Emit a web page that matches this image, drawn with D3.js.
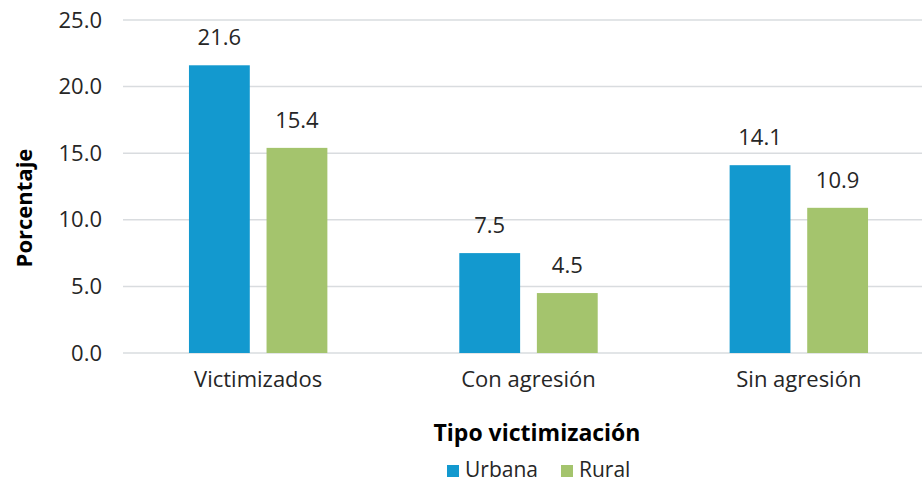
<!DOCTYPE html>
<html>
<head>
<meta charset="utf-8">
<script src="https://cdn.jsdelivr.net/npm/d3@7"></script>
<style>
  body { margin: 0; background: #fff; }
  svg { display: block; font-family: "Open Sans", sans-serif; }
</style>
</head>
<body>
<div id="chart"></div>
<script>
var WIDTH = 922, HEIGHT = 483;
var FONT = '"Open Sans", sans-serif';

// Data
var categories = ['Victimizados', 'Con agresión', 'Sin agresión'];
var seriesNames = ['Urbana', 'Rural'];
var urbana = [21.6, 7.5, 14.1];
var rural = [15.4, 4.5, 10.9];
var yTicks = [0, 5, 10, 15, 20, 25];
var colors = ['#1399cf', '#a4c46d'];

var seriesValues = [urbana, rural];

var svg = d3.select('#chart').append('svg')
    .attr('width', WIDTH)
    .attr('height', HEIGHT);

// plot area extends slightly past the right edge, like the source
var x0 = d3.scaleBand()
    .domain(categories)
    .range([123, 934])
    .paddingInner(0.488)
    .paddingOuter(0.244);

var x1 = d3.scaleBand()
    .domain(seriesNames)
    .range([0, x0.bandwidth()])
    .paddingInner(0.216);

var y = d3.scaleLinear()
    .domain([0, 25])
    .range([353, 20]);

// gridlines
svg.append('g').classed('grid', true)
    .selectAll('line')
    .data(yTicks)
    .enter().append('line')
        .attr('x1', 123)
        .attr('x2', WIDTH)
        .attr('y1', function(d) { return y(d); })
        .attr('y2', function(d) { return y(d); })
        .style('stroke', '#d9dcdf')
        .style('stroke-width', 1.5);

// y axis labels
var yAxis = d3.axisLeft(y)
    .tickValues(yTicks)
    .tickFormat(d3.format('.1f'))
    .tickSize(0)
    .tickPadding(0);

var yg = svg.append('g')
    .attr('transform', 'translate(102,0)')
    .call(yAxis);
yg.select('.domain').remove();
yg.selectAll('text')
    .style('font-size', '22px')
    .style('fill', '#262626')
    .style('font-family', FONT);

// x axis labels
var xAxis = d3.axisBottom(x0).tickSize(0).tickPadding(0);
var xg = svg.append('g')
    .attr('transform', 'translate(0,371)')
    .call(xAxis);
xg.select('.domain').remove();
xg.selectAll('text')
    .style('font-size', '22px')
    .style('fill', '#262626')
    .style('font-family', FONT);

// bars
var groups = svg.append('g').classed('bars', true)
    .selectAll('g')
    .data(categories)
    .enter().append('g')
        .attr('transform', function(d) { return 'translate(' + x0(d) + ',0)'; });

var cells = groups.selectAll('g.cell')
    .data(function(d, i) {
        return seriesNames.map(function(s, j) {
            return { series: s, value: seriesValues[j][i], color: colors[j] };
        });
    })
    .enter().append('g').classed('cell', true);

cells.append('rect')
    .attr('x', function(d) { return x1(d.series); })
    .attr('width', x1.bandwidth())
    .attr('y', function(d) { return y(d.value); })
    .attr('height', function(d) { return y(0) - y(d.value); })
    .style('fill', function(d) { return d.color; });

cells.append('text')
    .attr('x', function(d) { return x1(d.series) + x1.bandwidth() / 2; })
    .attr('y', function(d) { return y(d.value) - 20; })
    .attr('text-anchor', 'middle')
    .style('font-size', '22px')
    .style('fill', '#262626')
    .text(function(d) { return d3.format('.1f')(d.value); });

// axis titles
svg.append('text')
    .attr('transform', 'translate(32,208) rotate(-90)')
    .attr('text-anchor', 'middle')
    .style('font-size', '22px')
    .style('font-weight', 'bold')
    .style('fill', '#000')
    .text('Porcentaje');

svg.append('text')
    .attr('x', 537)
    .attr('y', 441)
    .attr('text-anchor', 'middle')
    .style('font-size', '23px')
    .style('font-weight', 'bold')
    .style('fill', '#000')
    .text('Tipo victimización');

// legend
var legendX = [447, 561];
var legend = svg.append('g').classed('legend', true)
    .selectAll('g')
    .data(seriesNames)
    .enter().append('g')
        .attr('transform', function(d, i) { return 'translate(' + legendX[i] + ',465)'; });

legend.append('rect')
    .attr('width', 12)
    .attr('height', 12)
    .style('fill', function(d, i) { return colors[i]; });

legend.append('text')
    .attr('x', 18)
    .attr('y', 12)
    .style('font-size', '21px')
    .style('fill', '#262626')
    .text(function(d) { return d; });
</script>
</body>
</html>
